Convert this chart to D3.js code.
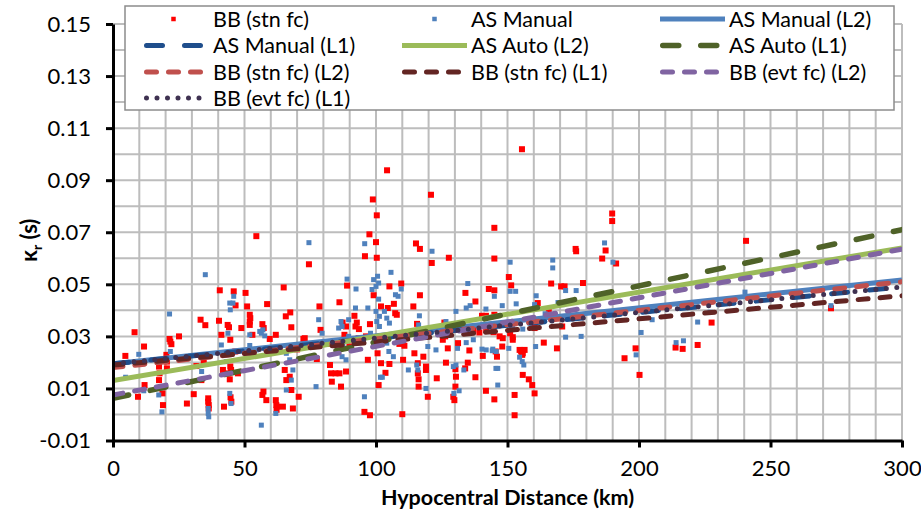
<!DOCTYPE html>
<html>
<head>
<meta charset="utf-8">
<script src="https://cdn.jsdelivr.net/npm/d3@7"></script>
<style>
  html, body { margin: 0; padding: 0; background: #ffffff; }
  svg { display: block; font-family: Lato, "Open Sans", sans-serif; }
</style>
</head>
<body>
<svg id="chart" width="921" height="515"></svg>
<script>
// Hypocentral distance (km) vs kappa_r (s)
const bbStnFc = [
  [4.7,0.0225],[8.2,0.0316],[11.8,0.0261],[21.5,0.029],[21.8,0.028],[22.2,0.027],[25.1,0.030],[20.3,0.0229],
  [20.5,0.0203],[20.5,0.0177],[17.5,0.0184],[17.7,0.0158],[17.5,0.0132],[12,0.0113],[9.5,0.0068],[18.8,0.0081],
  [19,0.0036],[28.1,0.0042],[30.7,0.0078],[31.7,0.0186],[34.5,0.0199],[33.6,0.0132],[36.2,0.0062],[36.2,0.0049],
  [36.4,0.0036],[36.4,0.0023],[41.8,0.0171],[43.7,0.0158],[44.4,0.0135],[44.9,0.0171],[44.6,0.0184],[47.5,0.0158],
  [42.2,0.003],[44.7,0.0066],[45,0.0049],[40.6,0.0477],[45.9,0.0473],[46.6,0.0419],[50.4,0.0467],[51,0.0415],
  [52,0.0383],[52,0.0357],[52,0.0344],[52.2,0.037],[33.3,0.0364],[35.1,0.0343],[40.3,0.036],[43.6,0.0344],
  [44.1,0.0335],[44.6,0.0287],[41.2,0.0306],[48.8,0.0332],[53,0.0306],[56.8,0.0347],[57.3,0.0332],[58.6,0.0424],
  [61.9,0.0306],[64.9,0.0488],[65.7,0.0377],[67.4,0.0392],[67.8,0.0335],[59.6,0.029],[63.4,0.0258],[65.3,0.0171],
  [65.9,0.0132],[67.2,0.0145],[67.8,0.0094],[56.8,0.0075],[57.2,0.0088],[58.3,0.0055],[61.9,0.0055],[62.1,0.0036],
  [62.4,0.003],[62.2,0.0018],[64.6,0.003],[68.4,0.0023],[70.6,0.0068],[70,0.025],[72.9,0.0293],[54.5,0.0685],
  [74.5,0.0577],[46.5,0.0242],
  [104.2,0.0938],[120.9,0.0844],[98.8,0.0826],[100.3,0.0765],[97.5,0.0692],[100,0.0662],[95.8,0.0608],[100.3,0.0602],
  [115.2,0.0657],[116.7,0.0636],[121.2,0.0582],[127.7,0.0602],[145,0.0717],[145,0.0599],[89,0.0495],[105.1,0.0492],
  [109.6,0.0503],[78.5,0.0415],[86.1,0.0431],[91.8,0.0379],[92.7,0.0353],[92.2,0.0338],[93.5,0.0328],[87.3,0.0353],
  [88.6,0.0338],[97.7,0.0347],[101.9,0.0415],[104.5,0.0409],[106.8,0.0425],[107.3,0.0389],[107.9,0.0383],[99.1,0.0458],
  [114.2,0.0415],[116.7,0.0458],[115.6,0.0348],[126,0.0353],[134,0.0467],[137.8,0.0434],[142.9,0.0482],[145,0.0477],
  [140.3,0.0379],[141.8,0.0379],[145,0.0383],[72.4,0.029],[78.9,0.0325],[82.3,0.0271],[83.8,0.0274],[85.1,0.0271],
  [89.9,0.0287],[89.9,0.0261],[82.5,0.019],[82.9,0.0158],[84.6,0.0158],[86.1,0.0158],[88.6,0.0165],[83.2,0.0126],
  [86.7,0.0107],[77.5,0.0213],[88,0.0306],[93.4,0.0293],[96.2,0.03],[96.9,0.021],[101.9,0.0197],[100.6,0.0235],
  [105.1,0.0194],[101,0.0113],[103.6,0.016],[95.6,0.001],[97.7,-0.0003],[110,0.0001],[110.3,0.021],[108.9,0.0271],
  [110.8,0.0264],[114.6,0.0235],[118,0.0222],[119,0.0184],[119,0.0171],[115.9,0.0197],[115.9,0.0158],[116.2,0.0135],
  [116.2,0.0107],[119.7,0.0068],[123.1,0.0139],[126.6,0.0199],[126.3,0.03],[127.3,0.0254],[130.2,0.0174],[130.4,0.0145],
  [130.2,0.0107],[129.4,0.0068],[129.8,0.0055],[133.9,0.0177],[134.9,0.0199],[137.8,0.0143],[141.8,0.0091],[145,0.0058],
  [125.4,0.0287],[126.6,0.0319],[129.8,0.0325],[131.2,0.0274],[135.5,0.0246],[137,0.0325],[139.3,0.0315],
  [155.5,0.1019],[189.8,0.0772],[189.8,0.0743],[175.9,0.0636],[176.1,0.0627],[187.3,0.063],[186,0.0599],[191.3,0.058],
  [150.5,0.0528],[151.4,0.0496],[166.6,0.0503],[170.4,0.0492],[171.7,0.0492],[178.7,0.0505],[161.5,0.0428],[160.9,0.0415],
  [165.7,0.0393],[170.8,0.0338],[160.3,0.0332],[141.9,0.0325],[144.7,0.0316],[147,0.03],[148.2,0.0293],[151,0.0312],
  [152,0.0297],[152,0.0287],[148,0.0261],[146,0.0222],[140.6,0.0225],[145.5,0.0242],[154.6,0.0248],[155.2,0.0242],
  [156.5,0.0248],[155.8,0.0235],[155.6,0.0229],[163.8,0.0276],[168.8,0.0254],[155.8,0.0152],[158.1,0.0135],[159.4,0.0113],
  [160.3,0.0081],[152.7,0.0075],[152.7,-0.0003],[194.5,0.0216],[198.7,0.0254],[200.2,0.0152],[213.9,0.0257],
  [216.6,0.0252],[222.3,0.0267],[227.6,0.0353],[240.7,0.0667],[273,0.0408]
];

const asManual = [
  [4.8,0.0143],[9.8,0.0231],[21.5,0.0386],[21.8,0.0242],[17.4,0.0075],[18.6,0.001],[11.7,0.0091],[35.1,0.0537],
  [36.2,0.0023],[36.2,0.0004],[36.4,-0.0009],[33.7,0.0165],[45.9,0.0454],[45.6,0.0428],[44.6,0.0402],[44.4,0.0428],
  [41.2,0.0267],[43.7,0.0312],[43.1,0.0203],[44.4,0.0081],[44.9,0.0042],[52,0.0306],[52,0.0265],[55.8,0.0319],
  [56.4,0.0312],[57,0.0325],[57.7,0.0302],[54.5,0.0248],[56.4,-0.0041],[65.9,0.0235],[67.2,0.021],[68.4,0.0171],
  [67.8,0.0132],[65.9,0.0094],[74.5,0.066],[61.9,0.0004],
  [89,0.052],[95.7,0.0656],[92.4,0.0482],[98.5,0.048],[99.1,0.0518],[100.6,0.0531],[101,0.0505],[100,0.0492],
  [105.7,0.0546],[107.4,0.046],[108.4,0.0454],[109.6,0.0482],[101,0.0443],[100,0.0396],[101.3,0.0377],[103.2,0.0396],
  [104.1,0.037],[105.1,0.0351],[92.2,0.0409],[96.9,0.0409],[86.7,0.0357],[89.6,0.0364],[89.6,0.03],[78.2,0.0364],
  [79.5,0.0312],[85.8,0.0332],[87.1,0.0338],[101.7,0.0143],[102.4,0.0143],[95.6,0.0068],[77.2,0.0107],[87.4,0.0261],
  [87.1,0.0222],[88.6,0.021],[97.9,0.0312],[100.3,0.0357],[101.3,0.0338],[104.1,0.0274],[104.9,0.0242],[106.6,0.0222],
  [112.3,0.0171],[115.5,0.019],[115.9,0.0171],[116.5,0.0379],[116.2,0.0344],[119.7,0.0261],[122.8,0.0248],[119,0.01],
  [121.3,0.0627],[126.6,0.0357],[130.4,0.0396],[131,0.0254],[129.4,0.0184],[130.4,0.019],[133.4,0.0171],[134.9,0.0503],
  [134.3,0.0409],[135.8,0.0418],[141.8,0.0405],[145,0.0454],[134.3,0.0276],[137,0.0287],[140.3,0.0251],[144.4,0.0251],
  [145.6,0.0177],[146.3,0.0113],[131.6,0.0091],[129.6,0.0081],
  [151,0.0585],[167.2,0.0593],[167.2,0.0563],[186.9,0.0659],[190.1,0.0585],[185,0.046],[151,0.0473],[153.1,0.0473],
  [153.3,0.0425],[148,0.0418],[160.9,0.0456],[160.3,0.0422],[169.2,0.043],[170.8,0.0422],[172.1,0.0476],[176.1,0.0476],
  [164.3,0.0387],[150.8,0.0332],[152,0.0338],[155.8,0.0328],[141.9,0.0248],[144.2,0.0245],[145.7,0.0242],[150.5,0.0254],
  [154.6,0.022],[155.6,0.0203],[156.2,0.019],[146.3,0.0177],[160.7,0.0261],[172.1,0.0297],[178,0.03],[205,0.0364],
  [200.8,0.0315],[198.9,0.0229],[214.1,0.0276],[216.9,0.0283],[222.3,0.0355],[227,0.0393],[240.3,0.047],[273,0.0418]
];

// Regression fits: kappa at 0 km and at 300 km
const fitNames = ["AS Manual (L2)", "AS Manual (L1)", "AS Auto (L2)", "AS Auto (L1)",
                  "BB (stn fc) (L2)", "BB (stn fc) (L1)", "BB (evt fc) (L2)", "BB (evt fc) (L1)"];
const fitAt0   = [0.0195, 0.0195, 0.0130, 0.0062, 0.0180, 0.0190, 0.0075, 0.0195];
const fitAt300 = [0.0517, 0.0490, 0.0640, 0.0710, 0.0510, 0.0456, 0.0635, 0.0490];

const xTicks = [0, 50, 100, 150, 200, 250, 300];
const yTicks = [-0.01, 0.01, 0.03, 0.05, 0.07, 0.09, 0.11, 0.13, 0.15];
const xTitle = "Hypocentral Distance (km)";

// Line appearance per fit
const fitStyle = {
  "AS Manual (L2)":   { color: "#4f81bd", width: 5,   dash: null,    cap: "butt" },
  "AS Manual (L1)":   { color: "#1f4e8c", width: 5,   dash: "16,22", cap: "round" },
  "AS Auto (L2)":     { color: "#9bbb59", width: 5,   dash: null,    cap: "butt" },
  "AS Auto (L1)":     { color: "#4f6228", width: 5.5, dash: "16,22", cap: "round" },
  "BB (stn fc) (L2)": { color: "#c0504d", width: 5,   dash: "10,12", cap: "round" },
  "BB (stn fc) (L1)": { color: "#632523", width: 5,   dash: "10,12", cap: "round" },
  "BB (evt fc) (L2)": { color: "#8064a2", width: 5,   dash: "10,12", cap: "round" },
  "BB (evt fc) (L1)": { color: "#3f3151", width: 5,   dash: "0,10.5", cap: "round" }
};

const svg = d3.select("#chart");
const plotL = 113, plotR = 902, plotT = 24, plotB = 440.5;

const x = d3.scaleLinear().domain([0, 300]).range([plotL, plotR]);
const y = d3.scaleLinear().domain([-0.01, 0.15]).range([plotB, plotT]);

// grid
const grid = svg.append("g").attr("stroke", "#bdbdbd").attr("stroke-width", 2);
grid.selectAll("line.v").data(d3.range(10, 301, 10)).join("line").attr("class", "v")
  .attr("x1", d => x(d)).attr("x2", d => x(d)).attr("y1", plotT).attr("y2", plotB);
grid.selectAll("line.h").data(d3.range(0, 16)).join("line").attr("class", "h")
  .attr("x1", plotL).attr("x2", plotR)
  .attr("y1", d => y(d / 100)).attr("y2", d => y(d / 100));

svg.append("clipPath").attr("id", "plotclip")
  .append("rect").attr("x", plotL).attr("y", plotT).attr("width", plotR - plotL).attr("height", plotB - plotT);

const plot = svg.append("g").attr("clip-path", "url(#plotclip)");

// scatter: station-corrected BB first, AS Manual over it
const sR = 6, sB = 5;
plot.append("g").selectAll("rect").data(bbStnFc).join("rect")
  .attr("x", d => x(d[0]) - sR / 2).attr("y", d => y(d[1]) - sR / 2)
  .attr("width", sR).attr("height", sR).attr("fill", "#ff0000");
plot.append("g").selectAll("rect").data(asManual).join("rect")
  .attr("x", d => x(d[0]) - sB / 2).attr("y", d => y(d[1]) - sB / 2)
  .attr("width", sB).attr("height", sB).attr("fill", "#4f81bd");

// fit lines
const line = d3.line().x(d => x(d[0])).y(d => y(d[1]));
fitNames.forEach((name, i) => {
  const st = fitStyle[name];
  plot.append("path")
    .datum([[0, fitAt0[i]], [300, fitAt300[i]]])
    .attr("d", line)
    .attr("fill", "none")
    .attr("stroke", st.color)
    .attr("stroke-width", st.width)
    .attr("stroke-linecap", st.cap)
    .attr("stroke-dasharray", st.dash);
});

// axes
const fmt = d => d.toFixed(2);
const yAxis = svg.append("g").attr("transform", `translate(${plotL},0)`)
  .call(d3.axisLeft(y).tickValues(yTicks).tickSize(7).tickSizeOuter(0).tickPadding(15).tickFormat(fmt));
const xAxis = svg.append("g").attr("transform", `translate(0,${plotB})`)
  .call(d3.axisBottom(x).tickValues(xTicks).tickSize(7).tickSizeOuter(0).tickPadding(13).tickFormat(d3.format("d")));

[yAxis, xAxis].forEach(a => {
  a.select(".domain").attr("stroke", "#000").attr("stroke-width", 3);
  a.selectAll(".tick line").attr("stroke", "#000").attr("stroke-width", 3);
  a.selectAll(".tick text").attr("font-size", 22).attr("fill", "#000")
    .attr("font-family", "Lato, 'Open Sans', sans-serif");
});

// axis titles
svg.append("text")
  .attr("x", (plotL + plotR) / 2).attr("y", 505)
  .attr("text-anchor", "middle").attr("font-size", 21.5).attr("font-weight", "bold")
  .text(xTitle);

const yt = svg.append("text")
  .attr("transform", `translate(37,${(plotT + plotB) / 2 + 8}) rotate(-90)`)
  .attr("text-anchor", "middle").attr("font-size", 22).attr("font-weight", "bold");
yt.append("tspan").text("κ");
yt.append("tspan").attr("font-size", 14).attr("dy", 5).text("r");
yt.append("tspan").attr("dy", -5).text(" (s)");

// legend
const lg = svg.append("g");
lg.append("rect").attr("x", 125).attr("y", 6).attr("width", 769).attr("height", 104)
  .attr("fill", "#fff").attr("stroke", "#8c8c8c").attr("stroke-width", 1.5);

const legendItems = ["BB (stn fc)", "AS Manual"].concat(fitNames);
const colSym = [[144, 203], [402, 467], [660, 725]];
const colText = [213, 471, 729];
const rowY = [19, 45.5, 72, 98];

legendItems.forEach((name, i) => {
  const c = i % 3, r = Math.floor(i / 3);
  const [x0, x1] = colSym[c];
  const cy = rowY[r];
  if (i === 0 || i === 1) {
    const s = 4.5;
    lg.append("rect").attr("x", (x0 + x1) / 2 - s / 2).attr("y", cy - s / 2)
      .attr("width", s).attr("height", s).attr("fill", i === 0 ? "#ff0000" : "#4f81bd");
  } else {
    const st = fitStyle[name];
    let a = x0, b = x1;
    if (st.cap === "round") { a += st.width / 2; b -= st.width / 2; }
    lg.append("line").attr("x1", a).attr("x2", b).attr("y1", cy).attr("y2", cy)
      .attr("stroke", st.color).attr("stroke-width", st.width)
      .attr("stroke-linecap", st.cap).attr("stroke-dasharray", st.dash);
  }
  lg.append("text").attr("x", colText[c]).attr("y", cy).attr("dy", "0.35em")
    .attr("font-size", 21.5).attr("fill", "#000").text(name);
});
</script>
</body>
</html>
